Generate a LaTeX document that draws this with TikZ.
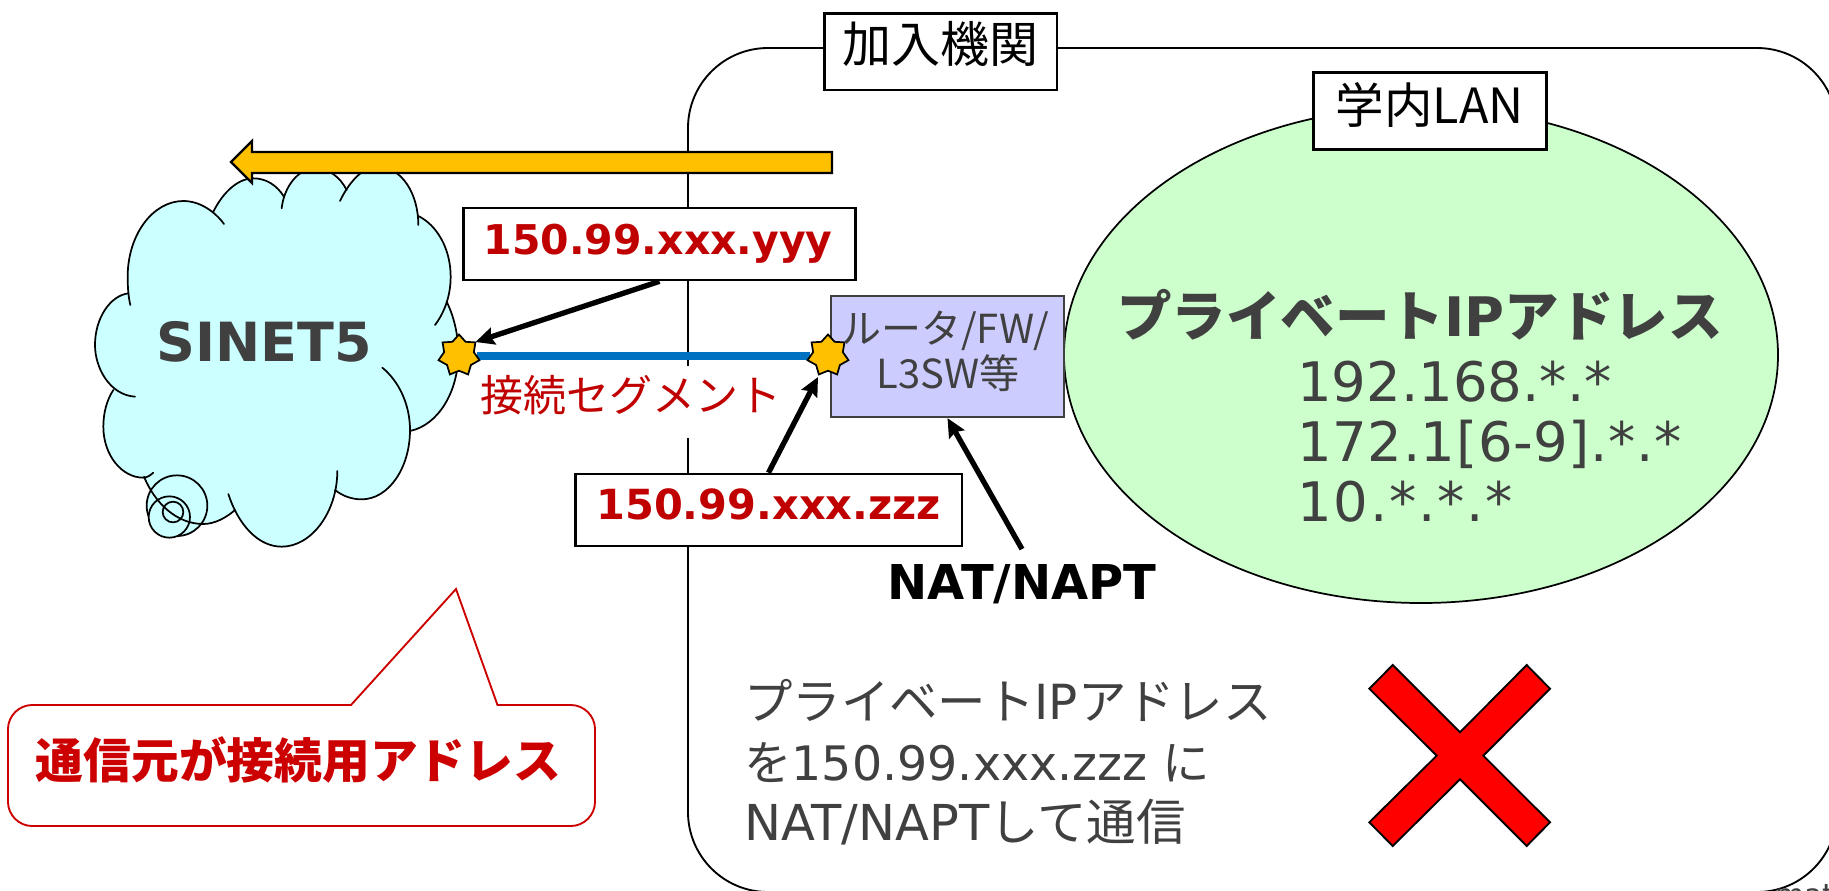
\documentclass[tikz,border=0pt]{standalone}
\usepackage{fontspec}
\setmainfont{DejaVu Sans}
\newfontfamily\cjk{Noto Sans CJK JP}
\usetikzlibrary{shapes.geometric,arrows.meta}
\definecolor{txtgray}{HTML}{404040}
\definecolor{darkred}{HTML}{C00000}
\definecolor{callred}{HTML}{CC0000}
\definecolor{gold}{HTML}{FFC000}
\definecolor{cloudc}{HTML}{CCFFFF}
\definecolor{lanc}{HTML}{CCFFCC}
\definecolor{routerc}{HTML}{CCCCFF}
\definecolor{segblue}{HTML}{0070C0}
\newdimen\pxd
\newdimen\pxl
\newcommand\fpx[1]{\pxd=#1pt \pxd=.75\pxd \pxl=1.2\pxd \fontsize{\the\pxd}{\the\pxl}\selectfont}
\newcommand\bl[2]{\smash{\raisebox{-#1pt}{#2}}}
\newcommand\cloudshape{%
\lobe{(211,525) .. controls (205,500) and (203,470) .. (203,440) .. controls (203,315) and (278,213) .. (370,213) .. controls (420,213) and (465,245) .. (492,282)}
\lobe{(205,490) .. controls (150,497) and (105,565) .. (105,645) .. controls (105,715) and (150,795) .. (225,800)}
\lobe{(160,780) .. controls (140,810) and (130,850) .. (130,890) .. controls (130,975) and (185,1043) .. (250,1043) .. controls (262,1043) and (272,1035) .. (280,1028)}
\lobe{(252,1040) .. controls (285,1120) and (350,1182) .. (430,1182) .. controls (465,1182) and (500,1162) .. (525,1140)}
\lobe{(505,1092) .. controls (535,1185) and (595,1250) .. (665,1250) .. controls (755,1250) and (832,1145) .. (832,1023)}
\lobe{(967,713) .. controls (1018,755) and (1050,825) .. (1050,900) .. controls (1050,1015) and (985,1108) .. (905,1108) .. controls (875,1108) and (848,1098) .. (825,1080)}
\lobe{(1160,515) .. controls (1182,560) and (1195,615) .. (1195,670) .. controls (1195,785) and (1135,885) .. (1050,903)}
\lobe{(1075,258) .. controls (1130,285) and (1172,355) .. (1172,440) .. controls (1172,495) and (1155,545) .. (1125,585)}
\lobe{(840,213) .. controls (870,150) and (915,105) .. (960,110) .. controls (1025,115) and (1075,190) .. (1075,285)}
\lobe{(665,235) .. controls (672,170) and (715,115) .. (765,115) .. controls (805,115) and (840,140) .. (860,180)}
\lobe{(460,245) .. controls (490,185) and (535,145) .. (580,145) .. controls (618,145) and (650,165) .. (672,200)}
}
\pgfdeclarelayer{back}
\pgfdeclarelayer{mid}
\pgfsetlayers{back,mid,main}
\tikzset{
 outline/.style={draw=black,line width=1.4pt},
 labelbox/.style={draw=black,line width=2pt,fill=white,inner sep=0pt,anchor=center},
 cloudline/.style={draw=black,line width=1.3pt},
 pointer/.style={draw=black,line width=4pt,-{Stealth[length=14pt,width=13pt,inset=2pt]}},
 starpt/.style={star,star points=7,star point ratio=1.38,minimum size=31.5pt,inner sep=0pt,draw=black,line width=1.3pt,fill=gold},
 free/.style={inner sep=0pt,anchor=base,text=txtgray},
 freew/.style={inner sep=0pt,anchor=base west,text=txtgray},
}
\begin{document}
\begin{tikzpicture}[x=.75pt,y=-.75pt]
\useasboundingbox (0,0) rectangle (1829,890);
\begin{pgfonlayer}{back}
\draw[outline,rounded corners=60pt] (688,48) rectangle (1837,892);
\node[fill=white,inner sep=0pt,minimum width=232.5pt,minimum height=54pt] (seg) at (631,402) {\bl{6.75}{\fpx{43}\cjk\textcolor{darkred}{接続セグメント}}};
\begin{scope}[shift={(60,130)},x=.25pt,y=-.25pt]
\def\lobe#1{\fill[cloudc] #1 -- cycle;}
\cloudshape
\fill[cloudc] (211,500) -- (460,245) -- (672,200) -- (860,180) -- (1075,258) -- (1160,515) -- (1050,903) -- (825,1080) -- (525,1140) -- (252,1040) -- (160,780) -- cycle;
\filldraw[cloudc,cloudline] (351,1127) circle[radius=22.75pt];
\filldraw[cloudc,cloudline] (328,1161) circle[radius=15.5pt];
\filldraw[cloudc,cloudline] (339,1146) circle[radius=7.75pt];
\def\lobe#1{\draw[cloudline,line cap=round] #1;}
\cloudshape
\end{scope}
\end{pgfonlayer}
\node[inner sep=0pt,anchor=base,text=txtgray] (sinet) at (264,361) {\fpx{54}\bfseries SINET5};
\draw[draw=black,line width=1.7pt,fill=gold] (832,152) -- (252,152) -- (252,141) -- (231,162) -- (252,183) -- (252,173) -- (832,173) -- cycle;
\node[ellipse,draw=black,line width=1.3pt,fill=lanc,inner sep=0pt,minimum width=535.5pt,minimum height=372pt] (lan) at (1421,355) {};
\node[labelbox,minimum width=174.5pt,minimum height=57.5pt] (org) at (940.5,51.5) {\bl{7.9}{\fpx{49}\cjk 加入機関}};
\node[labelbox,minimum width=175pt,minimum height=58pt] (campus) at (1430,111) {\bl{9}{\fpx{48.5}\cjk 学内LAN}};
\node[labelbox,minimum width=294pt,minimum height=54pt] (yyy) at (659.5,244) {\hspace*{-2pt}\bl{7.5}{\fpx{41}\bfseries\textcolor{darkred}{150.99.xxx.yyy}}};
\node[labelbox,minimum width=290pt,minimum height=54pt] (zzz) at (768.5,510) {\bl{6.75}{\fpx{41.5}\bfseries\textcolor{darkred}{150.99.xxx.zzz}}};
\node[draw=txtgray,line width=1.4pt,fill=routerc,inner sep=0pt,minimum width=174.5pt,minimum height=91pt] (router) at (947.5,356.5) {};
\node[starpt] (s1) at (459,355.5) {};
\node[starpt] (s2) at (828,355.5) {};
\begin{pgfonlayer}{mid}
\draw[segblue,line width=6pt] (s1) -- (s2);
\end{pgfonlayer}
\node[free] (r1) at (945,343) {\fpx{40}\cjk ルータ/FW/};
\node[free] (r2) at (948,388) {\fpx{40}\cjk L3SW等};
\coordinate (tipa) at (475.5,342);
\coordinate (tipb) at (818,377);
\node[inner sep=0pt,inner ysep=11pt,anchor=base,text=black] (nat) at (1022,599) {\fpx{48}\bfseries NAT/NAPT};
\draw[pointer] (yyy.south) -- (tipa);
\draw[pointer] (zzz.north) -- (tipb);
\draw[pointer] (nat.north) -- (router.south);
\node[free] (h1) at (1420,336) {\fpx{54.5}\bfseries{\cjk プライベート}IP{\cjk アドレス}};
\node[freew] (a1) at (1297,401) {\fpx{54.5}192.168.*.*};
\node[freew] (a2) at (1297,461) {\fpx{54.5}\addfontfeature{LetterSpace=1.1}172.1[6-9].*.*};
\node[freew] (a3) at (1297,521) {\fpx{54.5}\addfontfeature{LetterSpace=3.2}10.*.*.*};
\node[freew] (p1) at (744,719) {\fpx{48.4}{\cjk プライベート}IP{\cjk アドレス}};
\node[freew] (p2) at (744,780) {\fpx{47.5}{\cjk を}150.99.xxx.zzz {\cjk に}};
\node[freew] (p3) at (744,840) {\fpx{49.5}NAT/NAPT{\cjk して通信}};
\draw[draw=black,line width=1.4pt,fill=red] (1392.7,665) -- (1460,732.3) -- (1526.7,665) -- (1550,688.7) -- (1483.3,755.7) -- (1550,822.3) -- (1526.7,846) -- (1460,779.3) -- (1392.7,846) -- (1369.3,822.3) -- (1436.7,755.7) -- (1369.3,688.7) -- cycle;
\draw[draw=callred,line width=1.4pt,fill=white] (351,705) -- (456,589) -- (497.5,705) -- (571,705) .. controls (584,705) and (595,716) .. (595,729) -- (595,802) .. controls (595,815) and (584,826) .. (571,826) -- (32,826) .. controls (19,826) and (8,815) .. (8,802) -- (8,729) .. controls (8,716) and (19,705) .. (32,705) -- cycle;
\node[inner sep=0pt,anchor=base,text=callred] (note) at (298.5,778) {\fpx{47.8}\cjk\bfseries 通信元が接続用アドレス};
\node[inner sep=0pt,anchor=base west,text=txtgray] (edge) at (1775,905) {\fpx{30}mati};
\end{tikzpicture}
\end{document}
